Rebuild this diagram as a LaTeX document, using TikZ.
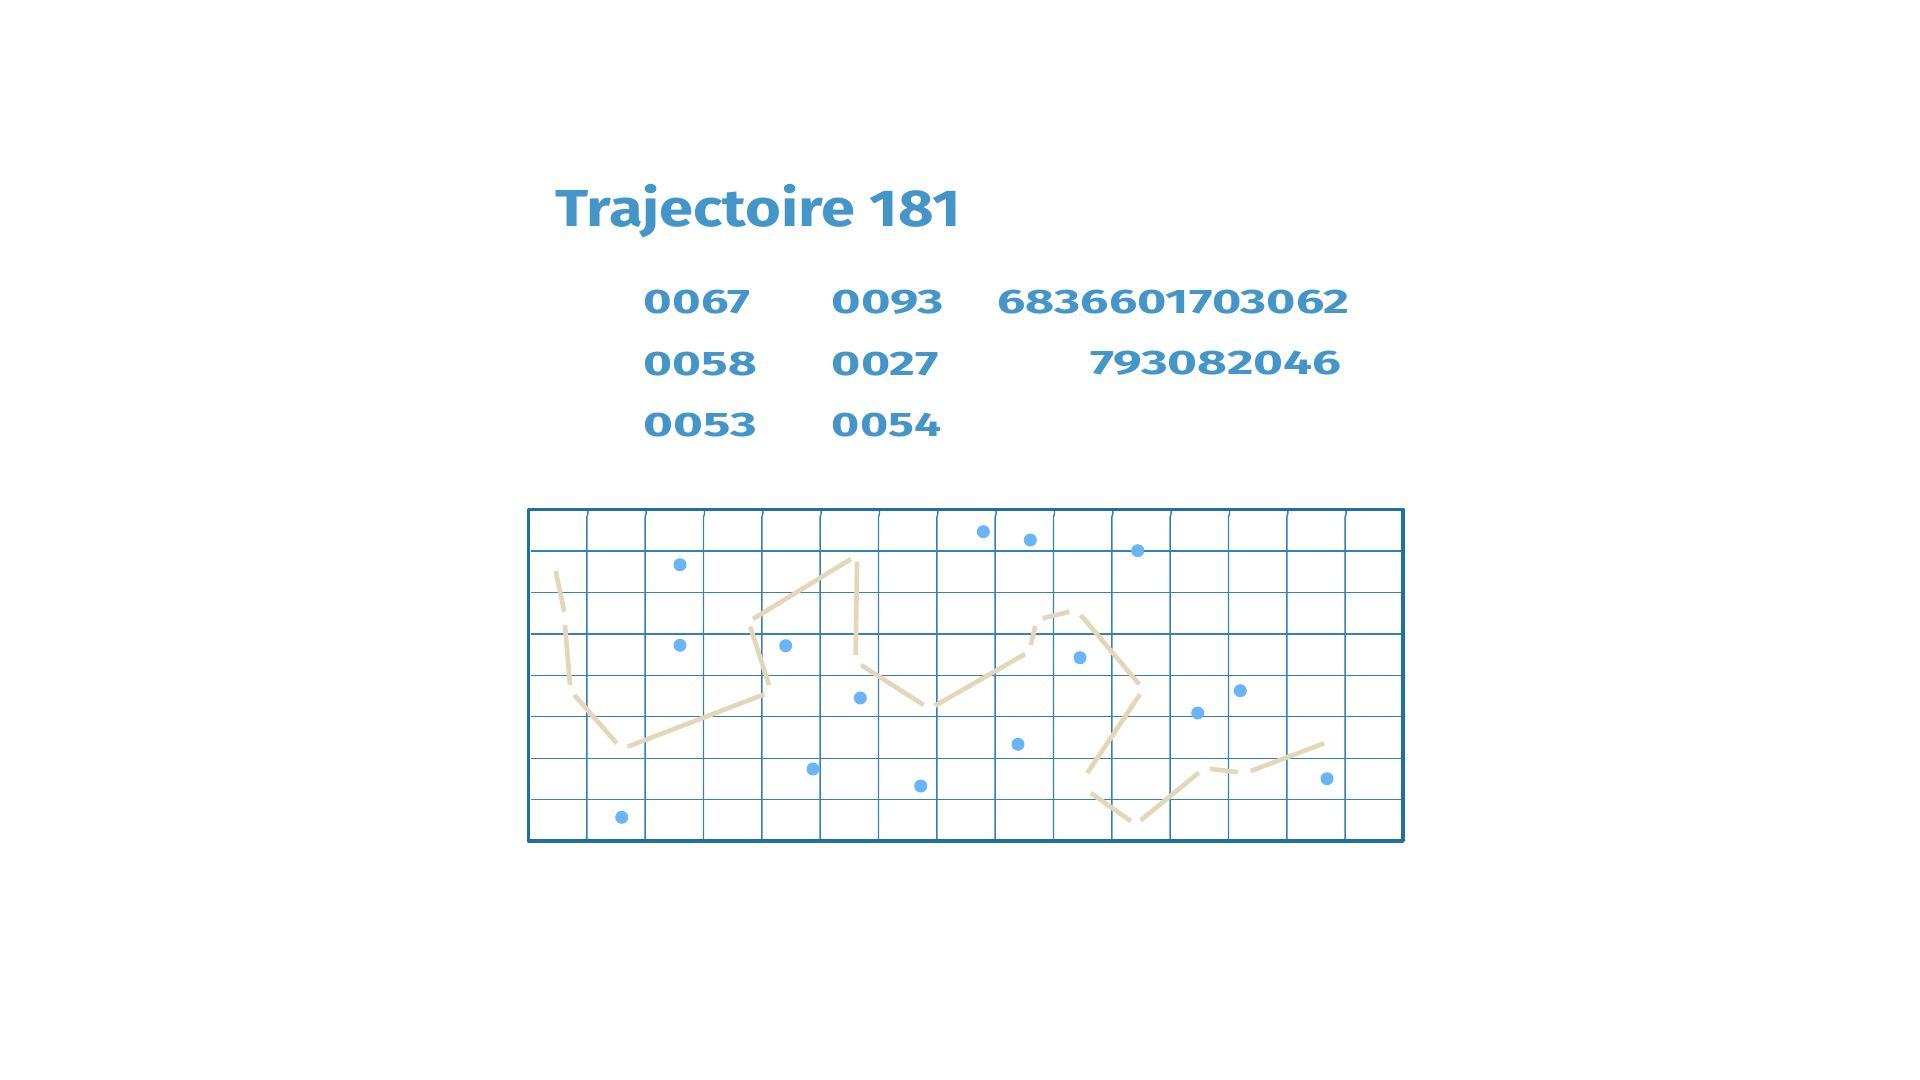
\documentclass[tikz,border=0pt]{standalone}
\usepackage{fontspec}
\setmainfont{Fira Sans}
\usepackage{graphicx}
\definecolor{txtblue}{HTML}{4596C8}
\definecolor{frameblue}{HTML}{1F6FA0}
\definecolor{gridblue}{HTML}{3580B4}
\definecolor{dotblue}{HTML}{6AB4FA}
\definecolor{trailtan}{HTML}{E4D6B8}
\newcommand{\fitw}[2]{\resizebox{#1}{\height}{#2}}
\begin{document}
\begin{tikzpicture}[x=0.5pt,y=-0.5pt,
  titletxt/.style={inner sep=0pt,anchor=base west,text=txtblue,font=\bfseries\fontsize{26}{30}\selectfont},
  numtxt/.style={inner sep=0pt,anchor=base west,text=txtblue,font=\bfseries\fontsize{17}{20}\selectfont},
  frame/.style={draw=frameblue,line width=1.75pt,line join=round},
  gridline/.style={draw=gridblue,line width=0.7pt},
  dot/.style={circle,fill=dotblue,inner sep=0pt,minimum size=6.5pt},
  trail/.style={draw=trailtan,line width=2.3pt}]
\fill[white] (0,0) rectangle (1920,1080);
\useasboundingbox (0,0) rectangle (1920,1080);
% texts
\node[titletxt] (title) at (555,227) {\fitw{202.5pt}{Trajectoire 181}};
\node[numtxt] (n11) at (643.5,314) {\fitw{53.3pt}{0067}};
\node[numtxt] (n21) at (643.5,375) {\fitw{56.7pt}{0058}};
\node[numtxt] (n31) at (643.5,437) {\fitw{56.7pt}{0053}};
\node[numtxt] (n12) at (831.5,314) {\fitw{56.1pt}{0093}};
\node[numtxt] (n22) at (831.5,375) {\fitw{53.3pt}{0027}};
\node[numtxt] (n32) at (831.5,437) {\fitw{54.7pt}{0054}};
\node[numtxt] (n13) at (997,314) {\fitw{176.2pt}{6836601703062}};
\node[numtxt] (n23) at (1089.6,375) {\fitw{125.7pt}{793082046}};
% grid
\foreach \k in {1,...,7} {
  \draw[gridline] (531,509.5+41.45*\k) -- (1403,509.5+41.45*\k);
}
\foreach \k in {1,...,14} {
  \draw[gridline] (528.5+58.33*\k+1,511) -- (528.5+58.33*\k+1,514) -- (528.5+58.33*\k,517) -- (528.5+58.33*\k,841);
}
\draw[frame] (528.5,509.5) rectangle (1403,841);
% trajectory
\draw[trail] (555.7,571) -- (564.3,611.7);
\draw[trail] (565,625) -- (570,685);
\draw[trail] (574.3,695) -- (616.7,743.3);
\draw[trail] (627.7,746.7) -- (764.3,694.3);
\draw[trail] (769,685) -- (750.3,626.7);
\draw[trail] (753,619) -- (851,559);
\draw[trail] (857,561.7) -- (855.7,655);
\draw[trail] (861,665) -- (923.7,705);
\draw[trail] (935,705.7) -- (1025,654);
\draw[trail] (1030.7,645) -- (1035.3,626);
\draw[trail] (1042.7,618.3) -- (1069.3,611.7);
\draw[trail] (1080.7,615) -- (1139.3,684.3);
\draw[trail] (1140,694.3) -- (1087.3,773);
\draw[trail] (1090.7,793) -- (1130.7,821);
\draw[trail] (1140.7,820.3) -- (1198.7,772.7);
\draw[trail] (1210,768.7) -- (1238,772.3);
\draw[trail] (1250.7,771) -- (1324,743.3);
% dots
\node[dot] (d1) at (680,564.7) {};
\node[dot] (d2) at (680,645.3) {};
\node[dot] (d3) at (785.7,645.7) {};
\node[dot] (d4) at (860.3,698) {};
\node[dot] (d5) at (813,769) {};
\node[dot] (d6) at (920.7,786) {};
\node[dot] (d7) at (621.7,817.3) {};
\node[dot] (d8) at (983.3,531.7) {};
\node[dot] (d9) at (1030.3,540) {};
\node[dot] (d10) at (1137.7,550.7) {};
\node[dot] (d11) at (1080,657.7) {};
\node[dot] (d12) at (1240.3,690.7) {};
\node[dot] (d13) at (1197.7,713) {};
\node[dot] (d14) at (1018,744.3) {};
\node[dot] (d15) at (1327,778.7) {};
\end{tikzpicture}
\end{document}
